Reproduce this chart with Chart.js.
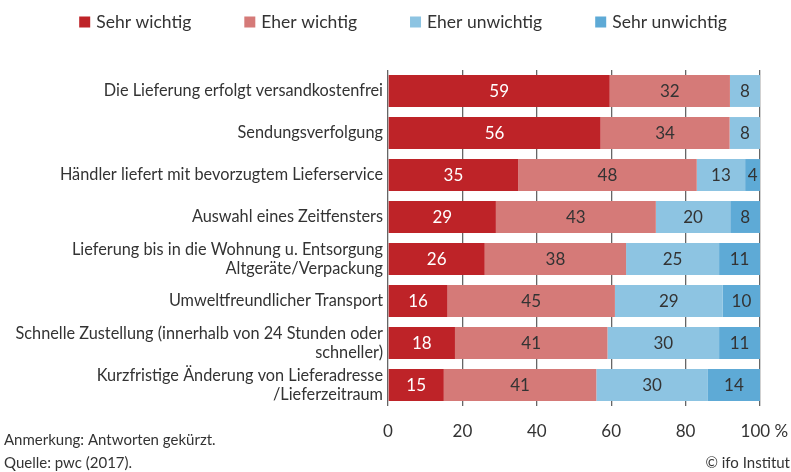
<!DOCTYPE html>
<html>
<head>
<meta charset="utf-8">
<script src="https://cdn.jsdelivr.net/npm/chart.js@4"></script>
<style>
    html, body { margin: 0; padding: 0; background: #fff; }
    #box { width: 791px; height: 472px; }
</style>
</head>
<body>
<div id="box"><canvas id="chart" width="791" height="472"></canvas></div>
<script>
// Kategorien (von oben nach unten)
var categories = [
    "Die Lieferung erfolgt versandkostenfrei",
    "Sendungsverfolgung",
    "Händler liefert mit bevorzugtem Lieferservice",
    "Auswahl eines Zeitfensters",
    ["Lieferung bis in die Wohnung u. Entsorgung", "Altgeräte/Verpackung"],
    "Umweltfreundlicher Transport",
    ["Schnelle Zustellung (innerhalb von 24 Stunden oder", "schneller)"],
    ["Kurzfristige Änderung von Lieferadresse", "/Lieferzeitraum"]
];

// Antworten in %
var sehrWichtig    = [59, 56, 35, 29, 26, 16, 18, 15];
var eherWichtig    = [32, 34, 48, 43, 38, 45, 41, 41];
var eherUnwichtig  = [8, 8, 13, 20, 25, 29, 30, 30];
var sehrUnwichtig  = [0, 0, 4, 8, 11, 10, 11, 14];

var xTicks = [0, 20, 40, 60, 80, 100];

var seriesNames = ["Sehr wichtig", "Eher wichtig", "Eher unwichtig", "Sehr unwichtig"];
var seriesColors = ["#BE2328", "#D57A78", "#8DC4E2", "#5EAAD6"];

var FONT = "Lato";
var TEXT = "#333333";

// Zeilensummen, damit jeder Balken auf 100 % gestreckt wird
var allSeries = [sehrWichtig, eherWichtig, eherUnwichtig, sehrUnwichtig];
var rowSums = categories.map(function (c, i) {
    return allSeries.reduce(function (s, arr) { return s + arr[i]; }, 0);
});

var datasets = allSeries.map(function (arr, k) {
    return {
        label: seriesNames[k],
        backgroundColor: seriesColors[k],
        borderWidth: 0,
        data: arr.map(function (v, i) { return v / rowSums[i] * 100; }),
        raw: arr
    };
});

// Werte in die Balken schreiben
var valueLabels = {
    id: "valueLabels",
    afterDatasetsDraw: function (chart) {
        var ctx = chart.ctx;
        ctx.save();
        ctx.font = "17px " + FONT;
        ctx.textAlign = "center";
        ctx.textBaseline = "middle";
        chart.data.datasets.forEach(function (ds, k) {
            var meta = chart.getDatasetMeta(k);
            meta.data.forEach(function (bar, i) {
                var v = ds.raw[i];
                if (!v) return;
                ctx.fillStyle = k === 0 ? "#ffffff" : TEXT;
                ctx.fillText(String(v), (bar.x + bar.base) / 2, bar.y + 1);
            });
        });
        ctx.restore();
    }
};

// Legende oben und Fußnoten unten
var extras = {
    id: "extras",
    afterDraw: function (chart) {
        var ctx = chart.ctx;
        ctx.save();
        ctx.font = "17.5px " + FONT;
        ctx.textBaseline = "middle";
        var box = 11, gapText = 6, gapItem = 53;
        var widths = seriesNames.map(function (n) { return ctx.measureText(n).width; });
        var total = widths.reduce(function (s, w) { return s + w + box + gapText; }, 0) + gapItem * 3;
        var x = 403 - total / 2;
        var y = 22;
        seriesNames.forEach(function (n, k) {
            ctx.fillStyle = seriesColors[k];
            ctx.fillRect(x, y - box / 2, box, box);
            ctx.fillStyle = TEXT;
            ctx.textAlign = "left";
            ctx.fillText(n, x + box + gapText, y);
            x += box + gapText + widths[k] + gapItem;
        });

        ctx.font = "15px " + FONT;
        ctx.textAlign = "left";
        ctx.fillText("Anmerkung: Antworten gekürzt.", 4, 440);
        ctx.fillText("Quelle: pwc (2017).", 4, 463);
        ctx.textAlign = "right";
        ctx.fillText("© ifo Institut", 790, 463);
        ctx.restore();
    }
};

var ctx = document.getElementById("chart").getContext("2d");
var chart = new Chart(ctx, {
    type: "bar",
    data: { labels: categories, datasets: datasets },
    plugins: [valueLabels, extras],
    options: {
        indexAxis: "y",
        responsive: false,
        animation: false,
        devicePixelRatio: 1,
        layout: { padding: { top: 70, right: 31, left: 0, bottom: 0 } },
        plugins: { legend: { display: false }, tooltip: { enabled: false } },
        datasets: { bar: { categoryPercentage: 1, barPercentage: 0.76 } },
        scales: {
            x: {
                stacked: true,
                min: 0,
                max: 100,
                afterBuildTicks: function (s) {
                    s.ticks = xTicks.map(function (v) { return { value: v }; });
                },
                afterFit: function (s) {
                    s.height = 66;
                    s.paddingLeft = 0;
                    s.paddingRight = 0;
                },
                grid: { color: "#666666", lineWidth: 1.3, drawTicks: false },
                border: { display: false },
                ticks: {
                    padding: 15,
                    color: TEXT,
                    font: { family: FONT, size: 17 },
                    maxRotation: 0,
                    callback: function (v) { return v === 100 ? "  100 %" : v; }
                }
            },
            y: {
                stacked: true,
                afterFit: function (s) { s.width = 388; },
                grid: { display: false, drawTicks: false },
                border: { display: false },
                ticks: {
                    padding: 5,
                    color: TEXT,
                    font: { family: FONT, size: 16.3, lineHeight: 1.15 }
                }
            }
        }
    }
});
</script>
</body>
</html>
